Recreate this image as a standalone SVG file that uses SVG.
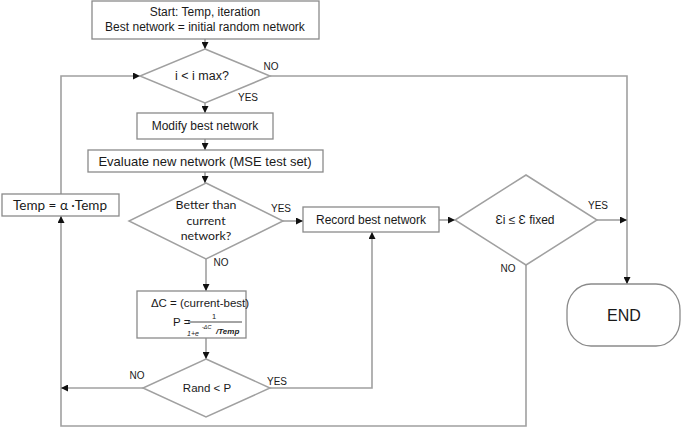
<svg xmlns="http://www.w3.org/2000/svg" width="685" height="429" viewBox="0 0 685 429">
<defs>
<marker id="ah" viewBox="0 0 10 10" refX="10" refY="5" markerWidth="7" markerHeight="7" markerUnits="userSpaceOnUse" orient="auto">
<path d="M0,0 L10,5 L0,10 z" fill="#111"/>
</marker>
<style>
.box{fill:#fff;stroke:#8a8a8a;stroke-width:1.3}
.dia{fill:#fff;stroke:#a0a0a0;stroke-width:1.5}
.ln{fill:none;stroke:#a0a0a0;stroke-width:1.6}
.ar{marker-end:url(#ah)}
text{font-family:"Liberation Sans","Open Sans",sans-serif;fill:#1a1a1a;font-size:11.5px}
.c{text-anchor:middle}
.lab{font-size:10px}
.rd{font-family:Lato,"Open Sans",sans-serif}
</style>
</defs>
<rect width="685" height="429" fill="#fff"/>
<g id="connectors">
<path class="ln ar" d="M205,39 V49"/>
<path class="ln ar" d="M205,103 V113"/>
<path class="ln ar" d="M205,139 V150"/>
<path class="ln ar" d="M205,172 V183"/>
<path class="ln ar" d="M270,76 H627 V284"/>
<path class="ln ar" d="M61,194 V76 H140"/>
<path class="ln ar" d="M283,221 H303"/>
<path class="ln ar" d="M439,220 H455"/>
<path class="ln ar" d="M597,220 H627"/>
<path class="ln ar" d="M526,265 V426 H61 V216"/>
<path class="ln ar" d="M206,259 V291"/>
<path class="ln ar" d="M206,338 V359"/>
<path class="ln ar" d="M143,388 H61"/>
<path class="ln ar" d="M270,388 H372 V232"/>
<text class="lab c" x="271" y="70">NO</text>
<text class="lab c" x="248" y="101">YES</text>
<text class="lab c" x="281" y="212">YES</text>
<text class="lab c" x="221" y="266">NO</text>
<text class="lab c" x="598" y="209">YES</text>
<text class="lab c" x="508" y="272">NO</text>
<text class="lab c" x="137" y="379">NO</text>
<text class="lab c" x="277" y="385">YES</text>
</g>
<g id="start">
<rect class="box" x="92" y="1" width="227" height="38"/>
<text class="c" x="205" y="16" style="font-size:12px">Start: Temp, iteration</text>
<text class="c" x="205" y="31" style="font-size:12px">Best network = initial random network</text>
</g>
<g id="imax">
<polygon class="dia" points="205,49 270,76 205,103 140,76"/>
<text class="c" x="202" y="80" style="font-size:12.5px">i &lt; i max?</text>
</g>
<g id="modify">
<rect class="box" x="137" y="113" width="136" height="26"/>
<text class="c" x="205" y="130" style="font-size:12px">Modify best network</text>
</g>
<g id="evaluate">
<rect class="box" x="88" y="150" width="235" height="22"/>
<text class="c" x="205" y="166" style="font-size:13px">Evaluate new network (MSE test set)</text>
</g>
<g id="temp">
<rect class="box" x="2" y="194" width="117" height="22"/>
<text class="c rd" x="60" y="210" style="font-size:13.5px">Temp = α ·Temp</text>
</g>
<g id="better">
<polygon class="dia" points="206,183 283,221 206,259 129,221"/>
<text class="c rd" x="206" y="209" style="font-size:12.3px">Better than</text>
<text class="c rd" x="206" y="225" style="font-size:12.3px">current</text>
<text class="c rd" x="206" y="240" style="font-size:12.3px">network?</text>
</g>
<g id="record">
<rect class="box" x="303" y="207" width="136" height="25"/>
<text class="c" x="371" y="224" style="font-size:12px">Record best network</text>
</g>
<g id="epsilon">
<polygon class="dia" points="526,175 597,220 526,265 455,220"/>
<text class="c" x="525" y="224" style="font-size:12px">Ɛi ≤ Ɛ fixed</text>
</g>
<g id="end">
<rect class="box" x="567" y="284" width="113" height="62" rx="24" ry="26"/>
<text class="c" x="624" y="321" style="font-size:16px">END</text>
</g>
<g id="deltac">
<rect class="box" x="137" y="291" width="109" height="47"/>
<text class="c" x="200" y="307">ΔC = (current-best)</text>
<text x="173" y="326">P =</text>
<line x1="188" y1="322" x2="242" y2="322" stroke="#1a1a1a" stroke-width="0.8"/>
<text class="c" x="214" y="319" style="font-size:7.5px">1</text>
<text x="187" y="336" style="font-size:7px;font-style:italic">1+e</text>
<text x="202" y="329" style="font-size:5.5px;font-style:italic">-ΔC</text>
<text x="216" y="334" style="font-size:8px;font-style:italic;font-weight:bold">/Temp</text>
</g>
<g id="rand">
<polygon class="dia" points="206,359 270,388 206,417 143,388"/>
<text class="c" x="207" y="392">Rand &lt; P</text>
</g>
</svg>
